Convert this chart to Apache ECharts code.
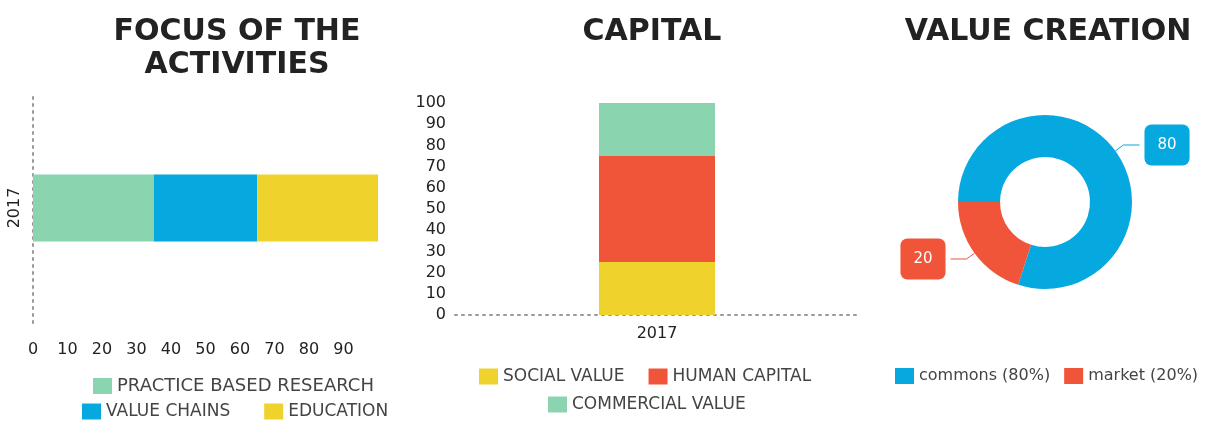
<!DOCTYPE html>
<html>
<head>
<meta charset="utf-8">
<script src="https://cdn.jsdelivr.net/npm/echarts@6/dist/echarts.min.js"></script>
<style>
html,body{margin:0;padding:0;background:#fff;}
#c{width:1207px;height:421px;}
</style>
</head>
<body>
<div id="c"></div>
<script>
// ---- data ----
const focusCategories = ['2017'];
const focusSeriesNames = ['PRACTICE BASED RESEARCH', 'VALUE CHAINS', 'EDUCATION'];
const focusValues = [35, 30, 35];
const focusTicks = [0, 10, 20, 30, 40, 50, 60, 70, 80, 90];

const capitalCategories = ['2017'];
const capitalSeriesNames = ['SOCIAL VALUE', 'HUMAN CAPITAL', 'COMMERCIAL VALUE'];
const capitalValues = [25, 50, 25];

const valueNames = ['commons (80%)', 'market (20%)'];
const valueValues = [80, 20];

// ---- styles ----
const GREEN = '#8ad4b0', BLUE = '#06a8e0', YELLOW = '#efd22c', RED = '#f0553a';
const focusColors = [GREEN, BLUE, YELLOW];
const capitalColors = [YELLOW, RED, GREEN];
const valueColors = [BLUE, RED];
const FONT = 'DejaVu Sans';

const chart = echarts.init(document.getElementById('c'), null, {renderer: 'canvas'});

const titleStyle = {fontFamily: FONT, fontSize: 30, fontWeight: 'bold', color: '#222', lineHeight: 33};
const lt = size => ({fontFamily: FONT, fontSize: size, color: '#444'});

const series = [];
focusSeriesNames.forEach((n, i) => {
  series.push({
    name: n, type: 'bar', stack: 'f', xAxisIndex: 0, yAxisIndex: 0,
    barWidth: 67, itemStyle: {color: focusColors[i]},
    data: focusCategories.map(() => focusValues[i])
  });
});
capitalSeriesNames.forEach((n, i) => {
  series.push({
    name: n, type: 'bar', stack: 'c', xAxisIndex: 1, yAxisIndex: 1,
    barWidth: 116, itemStyle: {color: capitalColors[i]},
    data: capitalCategories.map(() => capitalValues[i])
  });
});
series.push({
  name: 'VALUE CREATION', type: 'pie',
  center: [1045, 202], radius: [45, 87],
  startAngle: 180, clockwise: true,
  label: {
    show: true, position: 'outside', formatter: '{c}',
    color: '#fff', fontFamily: FONT, fontSize: 15,
    padding: [13, 13], borderRadius: 7
  },
  labelLine: {show: true, length: 10, length2: 16, lineStyle: {width: 1}},
  data: valueNames.map((n, i) => ({
    name: n, value: valueValues[i],
    itemStyle: {color: valueColors[i]},
    label: {backgroundColor: valueColors[i]},
    labelLine: {lineStyle: {color: valueColors[i]}}
  }))
});

const option = {
  animation: false,
  backgroundColor: '#fff',
  title: [
    {text: 'FOCUS OF THE\nACTIVITIES', left: 232, top: 11, textAlign: 'center', textStyle: titleStyle},
    {text: 'CAPITAL', left: 647, top: 11, textAlign: 'center', textStyle: titleStyle},
    {text: 'VALUE CREATION', left: 1043, top: 11, textAlign: 'center', textStyle: titleStyle}
  ],
  legend: [
    {data: [focusSeriesNames[0]], left: 88, top: 372, itemWidth: 19, itemHeight: 16, itemGap: 20, textStyle: lt(18), icon: 'rect'},
    {data: [focusSeriesNames[1], focusSeriesNames[2]], left: 77, top: 398, itemWidth: 19, itemHeight: 16, itemGap: 34, textStyle: lt(17), icon: 'rect'},
    {data: [capitalSeriesNames[0], capitalSeriesNames[1]], left: 474, top: 363, itemWidth: 19, itemHeight: 16, itemGap: 24, textStyle: lt(17), icon: 'rect'},
    {data: [capitalSeriesNames[2]], left: 543, top: 391, itemWidth: 19, itemHeight: 16, itemGap: 20, textStyle: lt(17), icon: 'rect'},
    {data: valueNames, left: 890, top: 363, width: 320, itemWidth: 19, itemHeight: 16, itemGap: 14, textStyle: lt(16), icon: 'rect'}
  ],
  grid: [
    {left: 33, top: 93, width: 345, height: 230},
    {left: 455, top: 103, width: 404, height: 212}
  ],
  xAxis: [
    {
      gridIndex: 0, type: 'value', min: 0, max: 100, interval: 10,
      axisLine: {show: false}, axisTick: {show: false}, splitLine: {show: false},
      axisLabel: {
        margin: 19, fontFamily: FONT, fontSize: 16, color: '#222',
        formatter: v => focusTicks.indexOf(v) >= 0 ? String(v) : ''
      }
    },
    {
      gridIndex: 1, type: 'category', data: capitalCategories,
      axisLine: {show: true, lineStyle: {color: '#999', type: [2, 5], width: 2}},
      axisTick: {show: false},
      axisLabel: {margin: 11, fontFamily: FONT, fontSize: 16, color: '#222'}
    }
  ],
  yAxis: [
    {
      gridIndex: 0, type: 'category', data: focusCategories,
      axisLine: {show: true, lineStyle: {color: '#999', type: [2, 5], width: 2}},
      axisTick: {show: false},
      axisLabel: {rotate: 90, margin: 10, fontFamily: FONT, fontSize: 16, color: '#222'}
    },
    {
      gridIndex: 1, type: 'value', min: 0, max: 100, interval: 10,
      axisLine: {show: false}, axisTick: {show: false}, splitLine: {show: false},
      axisLabel: {margin: 9, fontFamily: FONT, fontSize: 16, color: '#222'}
    }
  ],
  series: series
};
chart.setOption(option);
</script>
</body>
</html>
